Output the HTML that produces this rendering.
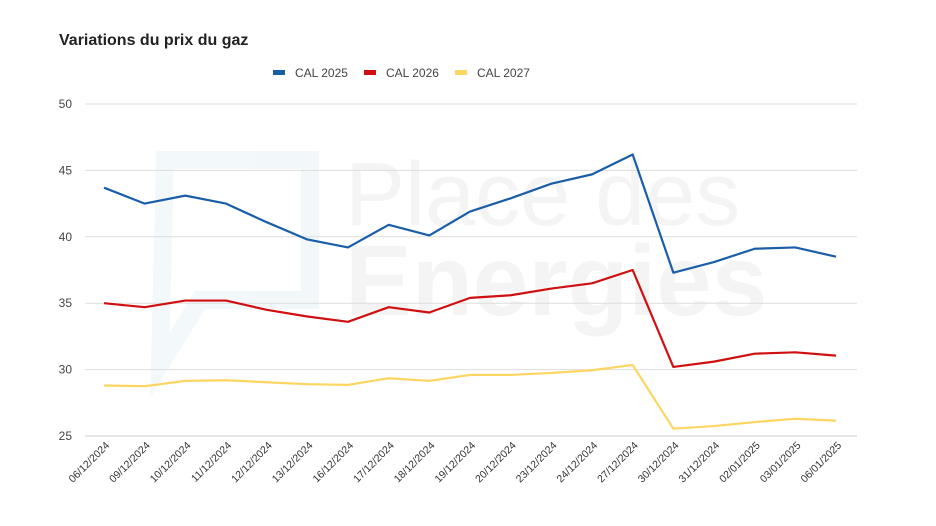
<!DOCTYPE html>
<html><head><meta charset="utf-8"><style>
body{margin:0;background:#fff;}
svg{display:block;font-family:"Liberation Sans",Arial,sans-serif;}
</style></head><body>
<svg id="chart" width="936" height="526">
<g opacity="0.05">
<path d="M165 160 H310 V300 H200 L160 365 Z" fill="none" stroke="#1a8fb0" stroke-width="18"/>
<text x="345" y="225" font-size="90" fill="#444" font-weight="300">Place des</text>
<text x="345" y="315" font-size="100" fill="#444" font-weight="bold">Energies</text>
</g>
<text x="59" y="45" font-size="16" font-weight="bold" fill="#222">Variations du prix du gaz</text>
<g id="legend"></g>
<g id="grid"></g>
<g id="xlabels"></g>
<g id="lines"></g>
</svg>
<script>
const categories=["06/12/2024","09/12/2024","10/12/2024","11/12/2024","12/12/2024","13/12/2024","16/12/2024","17/12/2024","18/12/2024","19/12/2024","20/12/2024","23/12/2024","24/12/2024","27/12/2024","30/12/2024","31/12/2024","02/01/2025","03/01/2025","06/01/2025"];
const cal2025=[43.7,42.5,43.1,42.5,41.1,39.8,39.2,40.9,40.1,41.9,42.9,44.0,44.7,46.2,37.3,38.1,39.1,39.2,38.5];
const cal2026=[35.0,34.7,35.2,35.2,34.5,34.0,33.6,34.7,34.3,35.4,35.6,36.1,36.5,37.5,30.2,30.6,31.2,31.3,31.05];
const cal2027=[28.8,28.75,29.15,29.2,29.05,28.9,28.85,29.35,29.15,29.6,29.6,29.75,29.95,30.35,25.55,25.75,26.05,26.3,26.15];
const yTicks=[25,30,35,40,45,50];
const seriesNames=["CAL 2025","CAL 2026","CAL 2027"];
const seriesColors=["#1a5ea8","#d01010","#ffd561"];
const NS="http://www.w3.org/2000/svg";
const X0=104,X1=836,Y0=436,Y1=104,VMIN=25,VMAX=50;
function xs(i){return X0+i*(X1-X0)/(categories.length-1);}
function ys(v){return Y0-(v-VMIN)*(Y0-Y1)/(VMAX-VMIN);}
function mk(t,a,p){const e=document.createElementNS(NS,t);for(const k in a)e.setAttribute(k,a[k]);p.appendChild(e);return e;}
const grid=document.getElementById('grid');
yTicks.forEach(v=>{
 const l=mk('line',{x1:85,x2:857,y1:ys(v),y2:ys(v),stroke:v===25?'#ccc':'#ddd','stroke-width':1},grid);
 
 
 const t=mk('text',{x:72,y:ys(v)+4,'text-anchor':'end','font-size':12,fill:'#444'},grid);
 t.textContent=v;
 
 
});
const xl=document.getElementById('xlabels');
categories.forEach((c,i)=>{
 const t=mk('text',{x:xs(i)+6,y:446,'text-anchor':'end','font-size':10.5,fill:'#333',transform:`rotate(-45 ${xs(i)+6} 446)`},xl);
 t.textContent=c;
 
 
});
const lines=document.getElementById('lines');
[cal2027,cal2026,cal2025].forEach((s,k)=>{
 const idx=2-k;
 const p=mk('polyline',{points:s.map((v,i)=>xs(i)+','+ys(v)).join(' '),fill:'none',stroke:seriesColors[idx],'stroke-width':2.2,'stroke-linejoin':'round'},lines);
 
 
});
const lg=document.getElementById('legend');
const lx=[273,364,455];
seriesNames.forEach((n,i)=>{
 const g=mk('g',{},lg);
 
 
 mk('rect',{x:lx[i],y:70,width:12,height:5,fill:seriesColors[i]},g);
 const t=mk('text',{x:lx[i]+22,y:77,'font-size':12,fill:'#444'},g);
 t.textContent=n;
});
</script>
</body></html>
